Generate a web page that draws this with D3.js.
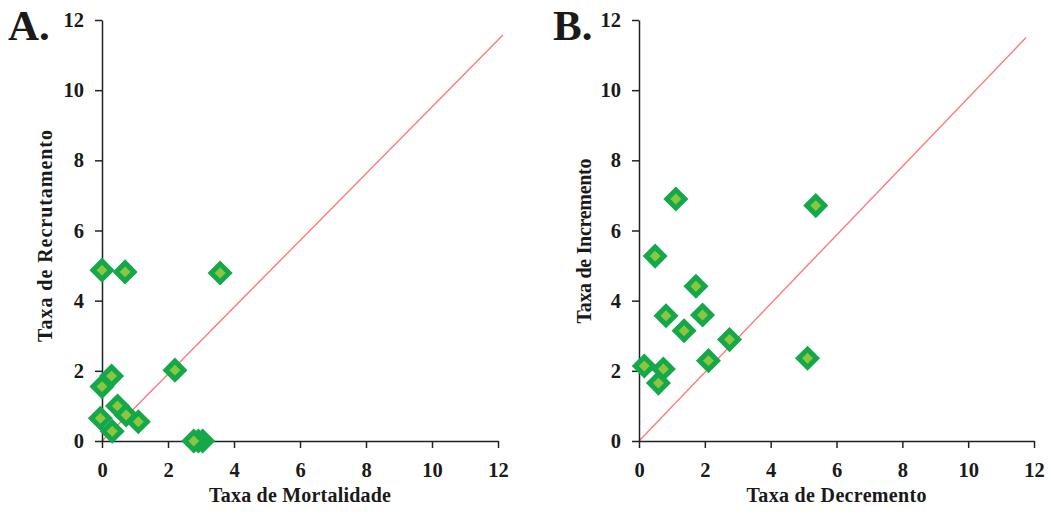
<!DOCTYPE html>
<html>
<head>
<meta charset="utf-8">
<script src="https://cdn.jsdelivr.net/npm/d3@7"></script>
<style>
  body { margin: 0; background: #fff; }
  svg { display: block; }
  text { font-family: "Liberation Serif", "Times New Roman", serif; font-weight: bold; fill: #1a1a1a; }
</style>
</head>
<body>
<div class="chart"></div>
<script>
// data
const ticks = [0, 2, 4, 6, 8, 10, 12];

// panel A: mortality vs recruitment
const mortalidade = [0, 0.7, 3.58, 2.21, 0, 0.29, 0.47, 0.73, 1.1, -0.05, 0.31, 3.05, 2.92, 2.78];
const recrutamento = [4.87, 4.82, 4.79, 2.02, 1.55, 1.85, 1.0, 0.74, 0.55, 0.65, 0.28, 0, 0, 0];
const lineA = [[0, 0], [12.15, 11.57]];

// panel B: decrement vs increment
const decremento = [1.12, 5.37, 0.49, 1.73, 0.82, 1.93, 1.37, 2.75, 2.11, 5.12, 0.16, 0.74, 0.59];
const incremento = [6.9, 6.71, 5.27, 4.41, 3.57, 3.59, 3.14, 2.89, 2.29, 2.36, 2.14, 2.05, 1.65];
const lineB = [[0, 0], [11.76, 11.5]];

const panels = [
  { label: "A.", xs: mortalidade, ys: recrutamento, line: lineA,
    xTitle: "Taxa de Mortalidade", yTitle: "Taxa de Recrutamento",
    left: 102, right: 498, labelX: 8, yTitleX: 52, yTitleY: 236, xLen: 182, yLen: 212 },
  { label: "B.", xs: decremento, ys: incremento, line: lineB,
    xTitle: "Taxa de Decremento", yTitle: "Taxa de Incremento",
    left: 639, right: 1034, labelX: 553, yTitleX: 591, yTitleY: 241, xLen: 180, yLen: 165 }
];

const svgWidth = 1051;
const svgHeight = 515;
const plotTop = 20, plotBottom = 441;

const svg = d3.select(".chart")
  .append("svg")
  .attr("width", svgWidth)
  .attr("height", svgHeight);

const diamond = d3.symbol().type(d3.symbolSquare).size(162);

panels.forEach(p => {
  const xScale = d3.scaleLinear().domain([0, 12]).range([p.left, p.right]);
  const yScale = d3.scaleLinear().domain([0, 12]).range([plotBottom, plotTop]);

  const g = svg.append("g");

  // 1:1 reference line
  g.append("path")
    .attr("d", d3.line().x(d => xScale(d[0])).y(d => yScale(d[1]))(p.line))
    .attr("fill", "none")
    .attr("stroke", "#ff7a7a")
    .attr("stroke-width", 1.4);

  // axes
  const xAxis = g.append("g")
    .attr("transform", `translate(0, ${plotBottom})`)
    .call(d3.axisBottom(xScale).tickValues(ticks).tickSize(7).tickSizeOuter(0).tickPadding(14));
  const yAxis = g.append("g")
    .attr("transform", `translate(${p.left}, 0)`)
    .call(d3.axisLeft(yScale).tickValues(ticks).tickSize(7).tickSizeOuter(0).tickPadding(11));

  [xAxis, yAxis].forEach(a => {
    a.attr("font-family", null).attr("font-size", null);
    a.selectAll("path, line").attr("stroke", "#222").attr("stroke-width", 1.5);
    a.selectAll("text").style("font-size", "20.5px").attr("fill", "#1a1a1a");
  });

  // points
  g.selectAll("path.pt")
    .data(p.xs.map((x, i) => [x, p.ys[i]]))
    .enter()
    .append("path")
    .attr("class", "pt")
    .attr("d", diamond)
    .attr("transform", d => `translate(${xScale(d[0])}, ${yScale(d[1])}) rotate(45)`)
    .attr("fill", "#8cc63f")
    .attr("stroke", "#14a84b")
    .attr("stroke-width", 5);

  // titles
  g.append("text")
    .attr("x", (p.left + p.right) / 2)
    .attr("y", 502)
    .attr("text-anchor", "middle")
    .attr("textLength", p.xLen)
    .attr("lengthAdjust", "spacing")
    .style("font-size", "20px")
    .text(p.xTitle);

  g.append("text")
    .attr("transform", `translate(${p.yTitleX}, ${p.yTitleY}) rotate(-90)`)
    .attr("text-anchor", "middle")
    .attr("textLength", p.yLen)
    .attr("lengthAdjust", "spacing")
    .style("font-size", "20px")
    .text(p.yTitle);

  g.append("text")
    .attr("x", p.labelX)
    .attr("y", 40)
    .style("font-size", "43px")
    .text(p.label);
});
</script>
</body>
</html>
